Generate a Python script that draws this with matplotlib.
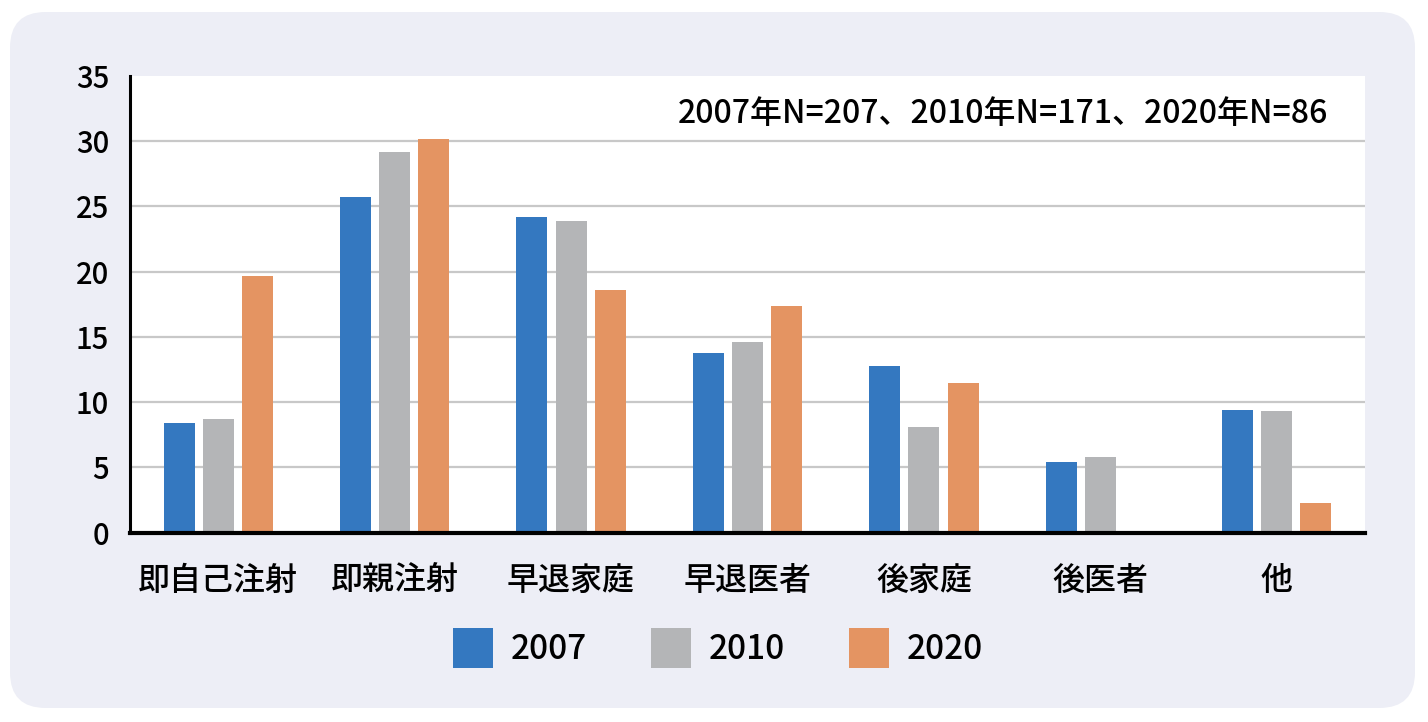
import matplotlib.pyplot as plt
import numpy as np
from matplotlib.patches import FancyBboxPatch, Patch

plt.rcParams['font.family'] = ['Noto Sans CJK JP', 'DejaVu Sans']
plt.rcParams['font.weight'] = 'medium'

categories = ['即自己注射', '即親注射', '早退家庭', '早退医者', '後家庭', '後医者', '他']
years = ['2007', '2010', '2020']
v2007 = [8.4, 25.7, 24.2, 13.8, 12.8, 5.4, 9.4]
v2010 = [8.7, 29.2, 23.9, 14.6, 8.1, 5.8, 9.3]
v2020 = [19.7, 30.2, 18.6, 17.4, 11.5, 0.0, 2.3]
colors = ['#3478c0', '#b4b5b7', '#e49462']
note = '2007年N=207、2010年N=171、2020年N=86'

fig = plt.figure(figsize=(14.28, 7.22), dpi=100)
fig.patch.set_facecolor('white')

# rounded lavender panel behind everything
bg = FancyBboxPatch((10 / 1428, 14 / 722), 1405 / 1428, 696 / 722,
                    boxstyle='round,pad=0,rounding_size=0.025',
                    transform=fig.transFigure, facecolor='#edeef6',
                    edgecolor='none', zorder=-10, mutation_aspect=1428 / 722)
fig.patches.append(bg)

ax = fig.add_axes([130 / 1428, 1 - 532.6 / 722, 1235 / 1428, 456.6 / 722])
ax.set_facecolor('white')

x = np.arange(len(categories)) + 0.5
w = 0.176
step = 0.222
for i, (vals, c) in enumerate(zip([v2007, v2010, v2020], colors)):
    ax.bar(x + (i - 1) * step, vals, width=w, color=c, zorder=3)

ax.set_xlim(0, len(categories))
ax.set_ylim(0, 35)
ax.set_yticks(range(0, 36, 5))
ax.set_xticks(x)
ax.set_xticklabels(categories, fontsize=23)
ax.tick_params(axis='y', length=0, pad=15, labelsize=21)
ax.tick_params(axis='x', length=0, pad=23)

for yv in range(5, 35, 5):
    ax.axhline(yv, color='#c8c8c8', lw=1.6, zorder=1)

for s in ['top', 'right']:
    ax.spines[s].set_visible(False)
ax.spines['left'].set_linewidth(2.2)
ax.spines['bottom'].set_linewidth(3)
ax.spines['left'].set_zorder(4)
ax.spines['bottom'].set_zorder(4)

ax.text(0.97, 0.917, note, transform=ax.transAxes, ha='right', va='center',
        fontsize=23)

handles = [Patch(facecolor=c, edgecolor='none') for c in colors]
fig.legend(handles, years, loc='center', bbox_to_anchor=(718 / 1428, 1 - 648 / 722),
           ncol=3, frameon=False, fontsize=24, handlelength=1.2, handleheight=1.5,
           handletextpad=0.55, columnspacing=1.9)

fig.savefig('out.png', dpi=100, facecolor='white')
